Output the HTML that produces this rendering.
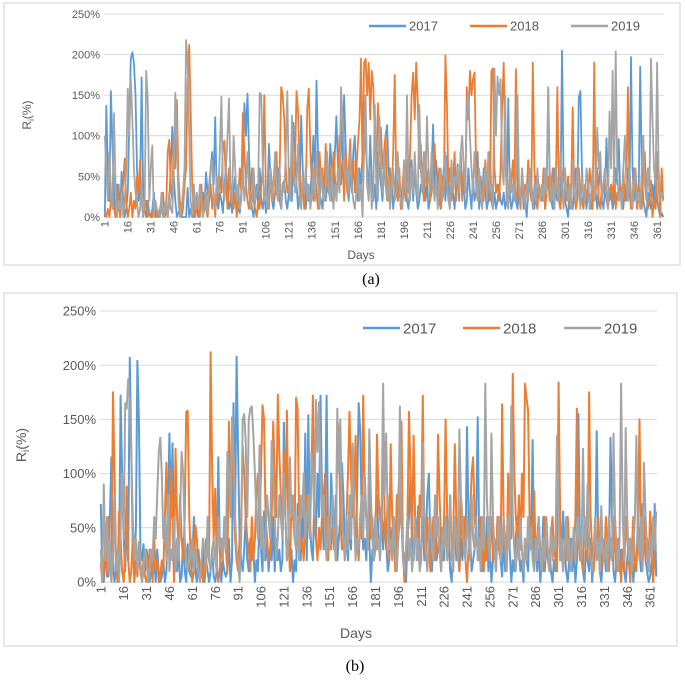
<!DOCTYPE html>
<html><head><meta charset="utf-8"><style>
body{margin:0;background:#fff;width:685px;height:681px;overflow:hidden}
svg{display:block;font-family:"Liberation Sans",sans-serif}
</style></head><body>
<svg id="s" width="685" height="681"></svg>
<script>
const days=365;
const yTicks=[0,50,100,150,200,250];
const seriesNames=["2017","2018","2019"];
const A17=[0,137,60,20,155,90,30,0,10,40,0,56,20,0,10,30,120,195,203,190,150,60,20,30,172,40,10,0,20,5,0,10,30,0,5,0,10,20,0,5,10,0,20,60,111,50,20,0,5,10,0,0,0,0,36,0,10,0,0,20,10,0,5,20,30,10,55,30,20,60,80,40,123,20,10,30,20,5,40,60,30,10,20,5,30,50,20,10,5,30,60,140,100,152,80,30,10,0,20,40,10,60,20,10,30,5,20,90,50,20,10,30,40,60,20,10,40,45,20,10,30,60,20,116,80,40,10,30,125,60,20,10,40,20,30,60,100,40,168,80,30,20,10,50,20,40,30,90,60,20,80,124,60,30,121,70,150,90,40,20,60,30,80,100,40,20,60,30,80,140,90,60,30,100,50,20,40,10,80,60,40,20,60,100,113,60,20,40,10,30,60,20,40,10,20,30,60,20,10,40,70,20,60,30,10,20,40,30,60,20,40,10,20,60,114,30,70,40,20,10,30,60,20,75,40,20,60,30,10,40,65,20,80,30,40,10,20,60,30,10,50,20,30,80,10,30,20,60,30,10,20,80,20,10,30,10,20,40,20,15,30,10,20,146,30,10,20,60,20,10,30,20,50,10,20,0,30,60,40,20,10,50,20,40,30,20,60,10,30,158,40,20,10,60,30,20,40,10,205,60,20,10,0,40,20,10,30,60,20,147,155,60,20,30,10,40,20,10,60,20,30,10,40,60,20,10,30,97,40,20,30,10,20,60,40,96,30,20,10,40,20,60,30,197,60,20,40,10,30,185,60,20,10,0,30,20,10,40,20,60,20,10,0,5,0];
const A18=[5,0,10,0,20,30,10,0,40,20,0,30,40,72,20,0,10,30,0,20,10,50,30,70,20,0,10,20,0,5,0,0,10,20,0,5,0,10,30,0,5,80,95,40,20,100,60,144,50,20,0,10,40,60,165,212,130,40,10,0,20,10,0,40,5,20,10,0,20,40,10,30,0,40,20,50,30,86,94,40,10,60,20,40,10,30,0,20,60,30,128,80,40,20,10,30,60,20,10,0,20,10,40,60,150,30,20,10,60,40,20,30,80,20,60,160,150,120,60,30,40,20,80,40,60,155,130,60,20,40,10,30,135,158,80,40,20,60,30,10,80,40,60,20,90,40,30,60,20,80,50,20,60,100,40,70,20,80,30,60,96,40,70,30,60,90,120,195,60,190,195,150,190,120,180,160,100,60,140,90,110,60,80,100,40,20,60,30,80,175,40,20,60,10,40,60,20,70,30,80,150,178,120,190,140,60,90,40,20,80,40,60,20,30,60,90,40,20,60,10,50,30,199,140,40,60,20,40,80,20,50,30,80,20,60,30,160,120,180,150,170,178,60,40,20,50,30,20,70,40,60,20,180,183,60,30,40,20,60,135,190,80,30,20,60,40,70,30,182,20,40,10,60,20,40,30,70,40,20,190,60,20,10,40,30,20,60,10,30,50,20,40,60,10,40,160,20,10,40,60,30,20,50,10,40,135,30,10,20,60,30,20,10,40,30,20,60,40,10,190,30,60,20,10,40,30,60,20,10,30,40,20,60,10,30,20,40,10,60,20,40,160,30,10,20,60,30,10,40,20,10,60,80,30,10,20,45,0,20,10,80,40,0,60,20];
const A19=[100,60,20,80,30,10,128,40,0,20,10,30,0,20,60,158,100,170,120,60,30,20,0,10,40,0,20,180,148,20,60,88,0,20,10,5,0,30,0,10,20,0,30,10,5,60,153,100,20,0,10,30,60,218,190,100,20,0,40,10,30,10,40,20,0,10,30,5,40,60,70,20,10,50,30,80,148,40,20,60,100,146,30,20,100,60,20,40,10,20,60,20,40,80,30,10,20,60,20,30,40,153,150,60,20,40,10,30,60,20,40,80,30,20,60,10,40,30,80,155,40,20,125,60,30,40,90,20,10,50,30,60,20,40,10,30,60,20,80,40,10,60,30,20,40,80,30,20,60,10,40,20,60,30,160,120,80,40,60,30,80,40,20,10,30,60,20,40,0,80,150,40,20,60,10,30,138,40,20,124,60,30,80,40,20,50,10,40,60,20,30,80,40,20,10,70,30,150,40,20,60,30,80,40,20,138,60,30,80,40,124,60,30,80,40,20,50,10,40,60,20,30,80,40,20,10,70,30,50,40,60,30,80,100,60,30,138,153,100,60,30,80,40,20,60,30,10,40,60,20,80,30,40,10,183,100,173,150,170,60,40,150,20,10,60,30,40,20,60,150,40,20,60,30,10,40,20,60,30,10,40,20,60,30,20,40,20,60,30,160,60,20,40,10,60,30,20,80,40,10,60,30,20,40,10,70,30,20,60,40,10,50,30,20,60,40,10,30,60,20,40,110,60,80,20,40,60,30,10,130,60,180,40,204,60,20,30,10,60,100,40,20,60,30,10,40,60,20,30,10,60,100,40,20,60,30,195,120,60,40,190,60,20,30,25];
const B17=[72,10,0,30,20,5,60,115,20,0,10,30,10,172,100,40,10,60,20,207,120,30,10,50,204,150,30,20,35,10,30,20,0,10,5,20,0,30,10,0,5,20,0,10,56,137,60,128,40,20,10,30,0,5,40,10,0,35,10,5,20,60,10,0,30,10,5,34,0,20,10,0,10,30,5,0,10,115,30,0,20,10,5,10,40,0,20,165,60,208,120,40,20,10,30,60,20,10,40,20,30,0,20,10,60,30,10,65,20,40,10,30,20,60,10,40,20,30,10,20,147,60,20,40,10,30,0,20,10,72,30,20,60,40,137,20,154,60,30,20,80,40,100,60,172,80,30,60,172,40,40,100,60,30,80,20,40,60,110,80,30,40,20,60,30,125,60,30,80,165,140,60,30,40,20,60,40,0,30,20,60,80,40,20,70,30,60,40,10,20,50,30,60,40,20,80,110,60,30,20,0,40,60,100,30,20,60,40,70,20,30,60,20,40,80,100,30,10,40,60,20,30,40,10,50,20,60,30,40,10,0,40,60,20,30,10,40,20,60,30,143,60,40,10,20,30,60,152,40,20,10,30,20,60,10,30,0,20,40,10,60,30,20,5,40,10,20,60,30,0,20,10,40,60,30,10,20,0,40,20,10,60,30,131,20,40,10,30,0,20,60,10,40,20,30,10,0,20,10,40,138,60,20,65,30,10,0,20,40,10,30,0,20,155,40,20,10,0,30,20,10,40,0,20,30,139,40,10,0,20,30,10,40,20,133,60,10,0,20,40,10,30,20,10,0,20,40,10,30,0,20,10,60,30,10,72,40,20,10,0,5,20,0,72,5];
const B18=[18,0,10,30,5,60,20,0,175,100,20,0,65,40,10,0,30,88,20,0,10,40,0,20,5,30,10,0,20,5,0,10,30,20,0,40,10,20,0,5,20,10,60,110,40,20,105,60,0,123,60,30,80,40,20,60,157,158,60,20,0,10,52,40,10,0,20,0,10,40,30,20,212,100,40,86,20,0,10,40,20,60,30,10,148,60,120,100,40,20,10,40,60,125,100,60,40,30,10,60,20,40,80,100,60,100,163,150,60,40,20,30,60,148,100,60,173,120,80,40,120,60,158,40,10,80,60,40,170,160,60,30,40,20,50,80,60,40,100,172,60,40,20,50,30,60,80,100,40,20,60,30,50,40,20,148,140,60,30,40,20,60,100,157,100,60,80,135,40,20,60,40,172,80,60,30,100,40,60,20,30,136,80,60,40,150,60,30,80,20,127,60,40,10,80,40,60,148,30,0,30,60,157,100,40,135,60,30,20,80,60,172,40,20,60,30,10,40,60,20,30,136,80,40,20,60,150,60,30,80,20,40,127,60,40,10,80,40,60,20,0,30,60,100,115,60,40,30,20,60,30,10,40,20,60,30,60,20,40,10,60,30,20,164,60,30,20,100,60,40,192,100,60,40,80,30,100,60,183,170,158,60,40,30,84,20,40,60,20,30,10,60,40,20,10,40,60,30,20,10,184,60,30,10,40,20,60,30,10,40,20,60,160,40,20,30,10,60,40,20,175,60,30,10,40,20,60,30,10,40,20,60,30,10,40,20,60,30,10,40,20,0,30,10,60,40,20,0,30,60,10,20,40,150,30,10,60,20,40,10,65,40,0,30,30];
const B19=[30,0,90,20,60,10,40,0,20,80,10,30,0,50,100,40,165,160,187,166,120,60,20,40,10,37,20,0,10,30,20,0,10,30,20,60,40,80,120,133,100,40,60,20,80,10,30,20,60,10,40,20,60,120,100,40,20,10,30,20,40,10,30,20,10,0,20,40,30,10,60,20,10,30,40,20,10,60,30,40,20,60,30,120,100,60,152,120,60,30,20,0,40,150,155,130,60,150,160,162,135,100,60,40,126,30,60,20,40,80,60,40,130,100,60,20,40,80,60,40,100,60,20,40,115,60,80,40,30,60,20,80,60,100,40,60,80,40,120,100,60,168,120,166,100,60,80,40,20,60,30,60,80,40,20,160,100,150,60,40,20,60,30,80,40,128,60,20,40,30,60,80,40,100,60,30,141,80,40,20,60,30,40,20,60,183,80,137,60,30,40,20,60,30,10,40,162,60,20,10,30,60,20,40,10,30,60,20,40,10,20,128,60,30,10,40,60,30,20,80,40,60,30,10,50,30,60,20,40,80,30,10,60,40,20,141,80,60,30,20,60,40,20,80,40,30,60,20,40,10,60,30,183,80,40,20,137,60,30,10,40,60,20,30,60,40,10,60,30,162,60,30,10,40,20,60,30,10,40,20,60,30,50,20,10,40,20,60,30,10,40,20,60,30,10,50,20,40,30,135,60,20,40,10,30,60,20,40,10,30,50,20,40,60,30,20,123,40,30,90,40,20,10,30,60,20,40,10,70,30,20,40,10,60,30,20,137,60,30,10,40,183,60,20,142,60,20,40,10,30,60,135,40,20,60,10,110,60,30,10,40,20,60,30,65];
const colors=["#5B9BD5","#ED7D31","#A5A5A5"];
const NS="http://www.w3.org/2000/svg";
const svg=document.getElementById('s');
function mk(tag,attrs,parent,text){const e=document.createElementNS(NS,tag);for(const k in attrs)e.setAttribute(k,attrs[k]);if(text!==undefined)e.textContent=text;(parent||svg).appendChild(e);return e;}
function chart(cfg,series){
  const g=mk('g',{});
  
  
  const fr=mk('rect',{x:cfg.fx,y:cfg.fy,width:cfg.fw,height:cfg.fh,fill:'#fff',stroke:'#d9d9d9','stroke-width':1.2},g);
  
  
  const xs=i=>cfg.x0+(i+0.5)*(cfg.x1-cfg.x0)/days;
  const ys=v=>cfg.y0-(v/250)*(cfg.y0-cfg.y1);
  yTicks.forEach(t=>{
    const l=mk('line',{x1:cfg.x0,x2:cfg.x1,y1:ys(t),y2:ys(t),stroke:'#d9d9d9','stroke-width':1},g);
    
    
    const tx=mk('text',{x:cfg.x0-4,y:ys(t)+cfg.fs*0.35,'text-anchor':'end','font-size':cfg.fs,fill:'#595959'},g,t+'%');
    
    
  });
  for(let d=1;d<=days;d+=15){
    const x=xs(d-1);
    const tx=mk('text',{x:0,y:0,transform:`translate(${x+cfg.fs*0.35},${cfg.y0+4}) rotate(-90)`,'text-anchor':'end','font-size':cfg.fs,fill:'#595959'},g,String(d));
    
    
  }
  series.forEach((arr,k)=>{
    const pts=arr.map((v,i)=>xs(i).toFixed(1)+','+ys(v).toFixed(1)).join(' ');
    const p=mk('polyline',{points:pts,fill:'none',stroke:colors[k],'stroke-width':cfg.lw,'stroke-linejoin':'round'},g);
    
    
  });
  seriesNames.forEach((n,k)=>{
    const lx=cfg.lx[k];
    const l=mk('line',{x1:lx,x2:lx+37,y1:cfg.ly,y2:cfg.ly,stroke:colors[k],'stroke-width':2.5},g);
    
    
    const t=mk('text',{x:lx+40,y:cfg.ly+cfg.lfs*0.36,'font-size':cfg.lfs,fill:'#595959'},g,n);
    
    
  });
  const yt=mk('text',{x:0,y:0,transform:`translate(${cfg.ytx},${cfg.yty}) rotate(-90)`,'text-anchor':'middle','font-size':cfg.fs+1,fill:'#595959'},g);
  
  
  mk('tspan',{},yt,'R');mk('tspan',{'font-size':cfg.fs-3,dy:3},yt,'i');mk('tspan',{dy:-3},yt,'(%)');
  const xt=mk('text',{x:cfg.dx,y:cfg.dy,'text-anchor':'middle','font-size':cfg.fs+1,fill:'#595959'},g,'Days');
  
  
  const cap=mk('text',{x:cfg.cx,y:cfg.cy,'text-anchor':'middle','font-size':16,'font-family':'"Liberation Serif",serif',fill:'#000'},svg,cfg.cap);
  
  
}
chart({name:'chart-a',fx:4,fy:3,fw:676,fh:262,x0:104,x1:664,y0:217,y1:14,fs:11,lw:1.8,lx:[369,470,571],ly:26,lfs:13,ytx:31,yty:115,dx:361,dy:259,cx:371,cy:284,cap:'(a)'},[A17,A18,A19]);
chart({name:'chart-b',fx:4,fy:293,fw:673,fh:353,x0:100,x1:657,y0:582,y1:311,fs:13,lw:2,lx:[363,463,564],ly:328,lfs:15,ytx:26,yty:445,dx:356,dy:638,cx:355,cy:671,cap:'(b)'},[B17,B18,B19]);
</script>
</body></html>
